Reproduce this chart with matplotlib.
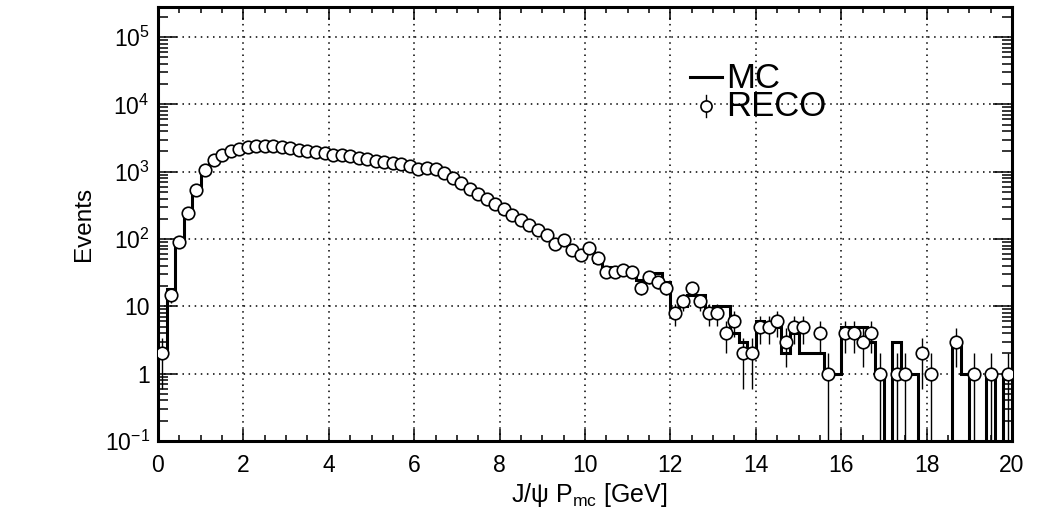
import numpy as np
import matplotlib
matplotlib.use('Agg')
import matplotlib.pyplot as plt
from matplotlib.lines import Line2D
from matplotlib.ticker import FixedLocator, FixedFormatter, MultipleLocator, LogLocator, NullFormatter

plt.rcParams['font.family'] = ['Liberation Sans', 'DejaVu Sans']
plt.rcParams['mathtext.fontset'] = 'custom'
plt.rcParams['mathtext.rm'] = 'Liberation Sans'
plt.rcParams['mathtext.it'] = 'Liberation Sans:italic'

# ---- data (100 bins, 0-20 GeV, width 0.2) ----
bin_edges = np.round(np.linspace(0.0, 20.0, 101), 1)

mc = np.array([2, 18, 100, 250, 560, 1050, 1450, 1750, 2000, 2200,
               2300, 2400, 2450, 2420, 2350, 2250, 2150, 2050, 2000, 1900,
               1850, 1750, 1700, 1650, 1550, 1500, 1400, 1350, 1280, 1200,
               1150, 1150, 1050, 950, 820, 680, 570, 480, 400, 330,
               280, 235, 195, 165, 135, 115, 95, 85, 72, 62,
               64, 46, 38, 35, 35, 29, 25, 23, 31, 23,
               9, 10, 15, 15, 9, 10, 10, 4, 3, 2,
               6, 5, 5, 2, 4, 2, 2, 2, 1, 1,
               5, 5, 5, 3, 1, 0, 3, 1, 1, 0,
               0, 0, 0, 3, 1, 0, 0, 1, 0, 1], dtype=float)

reco = np.array([2, 15, 90, 245, 540, 1050, 1500, 1800, 2050, 2200,
                 2350, 2400, 2450, 2400, 2300, 2250, 2100, 2050, 1950, 1900,
                 1800, 1750, 1700, 1600, 1550, 1450, 1400, 1350, 1300, 1200,
                 1100, 1150, 1100, 950, 800, 680, 560, 470, 390, 330,
                 275, 230, 195, 160, 135, 115, 85, 97, 68, 58,
                 74, 52, 32, 32, 35, 32, 19, 27, 23, 19,
                 8, 12, 19, 12, 8, 8, 4, 6, 2, 2,
                 5, 5, 6, 3, 5, 5, 0, 4, 1, 0,
                 4, 4, 3, 4, 1, 0, 1, 1, 0, 2,
                 1, 0, 0, 3, 0, 1, 0, 1, 0, 1], dtype=float)

y_tick_values = [1e-1, 1, 10, 1e2, 1e3, 1e4, 1e5]
y_tick_labels = [r'$\mathregular{10^{-1}}$', '1', '10', r'$\mathregular{10^{2}}$',
                 r'$\mathregular{10^{3}}$', r'$\mathregular{10^{4}}$', r'$\mathregular{10^{5}}$']
x_tick_values = list(range(0, 21, 2))
legend_labels = ['MC', 'RECO']

W, H = 1048, 517
fig = plt.figure(figsize=(W / 100, H / 100), dpi=100)
ax = fig.add_axes([158 / W, (H - 441) / H, (1012 - 158) / W, (441 - 7) / H])
ax.set_yscale('log')
ax.set_xlim(0, 20)
ax.set_ylim(0.1, 2.8e5)

# grid
ax.set_axisbelow(True)
ax.grid(True, which='major', color='k', linestyle=(0, (1, 3)), linewidth=1.1)

# MC histogram
floor = 1e-4
mc_plot = np.where(mc > 0, mc, floor)
ax.stairs(mc_plot, bin_edges, color='k', linewidth=2.2, baseline=None, zorder=2)

# RECO points with sqrt(N) errors
centers = 0.5 * (bin_edges[:-1] + bin_edges[1:])
sel = reco > 0
rv = reco[sel]
err = np.sqrt(rv)
lo = rv - np.maximum(rv - err, floor)
hi = err
ax.errorbar(centers[sel], rv, yerr=[lo, hi], fmt='o', ms=9, mfc='white', mec='k',
            mew=1.2, ecolor='k', elinewidth=1.0, capsize=0, zorder=3)

# ticks
ax.tick_params(which='both', direction='in', top=True, right=True, width=1.1,
               labelsize=16.5, colors='k')
ax.xaxis.set_major_locator(FixedLocator(x_tick_values))
ax.xaxis.set_minor_locator(MultipleLocator(0.5))
ax.xaxis.set_tick_params(which='major', length=9, pad=9)
ax.xaxis.set_tick_params(which='minor', length=4.5)
ax.yaxis.set_major_locator(FixedLocator(y_tick_values))
ax.yaxis.set_major_formatter(FixedFormatter(y_tick_labels))
ax.yaxis.set_minor_locator(LogLocator(base=10, subs=np.arange(2, 10), numticks=50))
ax.yaxis.set_minor_formatter(NullFormatter())
ax.yaxis.set_tick_params(which='major', length=14, pad=6)
ax.yaxis.set_tick_params(which='minor', length=7)
for s in ax.spines.values():
    s.set_linewidth(2.2)

ax.set_xlabel(r'J/ψ P$_{\mathregular{mc}}$ [GeV]', fontsize=18)
ax.xaxis.set_label_coords(0.505, -0.093)
ax.set_ylabel('Events', fontsize=17.5)
ax.yaxis.set_label_coords(-0.074, 0.5)

# legend (drawn manually, ROOT style)
fx = lambda px: px / W
fy = lambda py: (H - py) / H
fig.add_artist(Line2D([fx(690), fx(722)], [fy(77), fy(77)], color='k', lw=2.2))
fig.add_artist(Line2D([fx(706)], [fy(106)], marker='o', ms=8, mfc='white', mec='k', mew=1.2))
fig.add_artist(Line2D([fx(706), fx(706)], [fy(95), fy(100)], color='k', lw=1))
fig.add_artist(Line2D([fx(706), fx(706)], [fy(112), fy(117)], color='k', lw=1))
fig.text(fx(726), fy(62), '\n'.join(legend_labels), fontsize=25, va='top', ha='left',
         linespacing=0.8)

fig.savefig('out.png', dpi=100)
